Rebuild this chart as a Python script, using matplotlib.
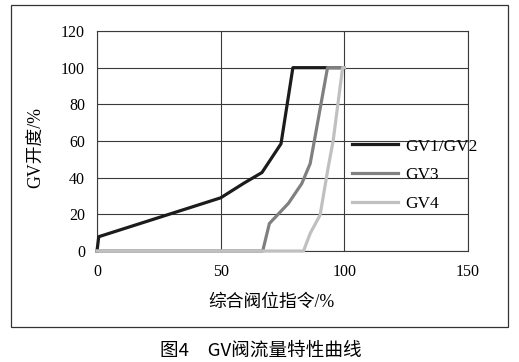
import matplotlib
matplotlib.use("Agg")
import matplotlib.pyplot as plt
from matplotlib.patches import Rectangle

plt.rcParams['font.family'] = ['Liberation Serif', 'Noto Sans CJK SC']

# valve opening vs. combined valve command
gv12_x = [0, 0.7, 50, 59.4, 66.7, 74.4, 79.2, 100]
gv12_y = [0, 7.8, 29, 37, 42.8, 58.5, 100, 100]
gv3_x = [0, 67, 69.7, 77.4, 82.8, 86.2, 87.9, 93.2, 100]
gv3_y = [0, 0, 15, 26, 36.8, 47.7, 60.3, 100, 100]
gv4_x = [0, 83.5, 86.2, 90.2, 93.5, 95.5, 99.3, 100]
gv4_y = [0, 0, 9.6, 19.6, 45.8, 60.3, 100, 100]

series = [("GV1/GV2", gv12_x, gv12_y, "#1c1c1c"),
          ("GV3", gv3_x, gv3_y, "#808080"),
          ("GV4", gv4_x, gv4_y, "#c0c0c0")]

xticks = [0, 50, 100, 150]
yticks = [0, 20, 40, 60, 80, 100, 120]

fig = plt.figure(figsize=(5.19, 3.62), dpi=100)
ax = fig.add_axes([97/519, 1 - 251/362, 371/519, 220/362])

for name, xs, ys, col in series:
    ax.plot(xs, ys, color=col, lw=2.3, label=name, clip_on=False, zorder=3)

ax.set_xlim(0, 150)
ax.set_ylim(0, 120)
ax.set_xticks(xticks)
ax.set_yticks(yticks)
ax.tick_params(length=0, labelsize=11.5)
ax.tick_params(axis='y', pad=8.6)
ax.tick_params(axis='x', pad=9.5)
ax.grid(True, color="#3a3a3a", lw=0.8)
for s in ax.spines.values():
    s.set_color("#3a3a3a")
    s.set_linewidth(0.8)

# axis titles placed by hand (the x one sits a bit left of centre)
fig.text(271/519, 1 - 302/362, "综合阀位指令/%", ha="center", va="center", fontsize=12.8)
fig.text(37/519, 1 - 147.5/362, "GV开度/%", ha="center", va="center",
         rotation=90, fontsize=12.8)

ax.legend(loc="center left", bbox_to_anchor=(0.687, 0.345), frameon=False,
          fontsize=12.5, handlelength=2.65, handletextpad=0.4, labelspacing=0.72,
          borderpad=0, borderaxespad=0)

# outer frame around the chart
fig.add_artist(Rectangle((11/519, 1 - 327/362), 497/519, 322/362,
                         transform=fig.transFigure, fill=False,
                         edgecolor="#333333", lw=0.9))

fig.text(261/519, 1 - 351/362, "图4\u3000GV阀流量特性曲线", ha="center", va="center",
         fontsize=13.4, family=["Noto Sans CJK SC"])

fig.savefig("out.png", dpi=100)
